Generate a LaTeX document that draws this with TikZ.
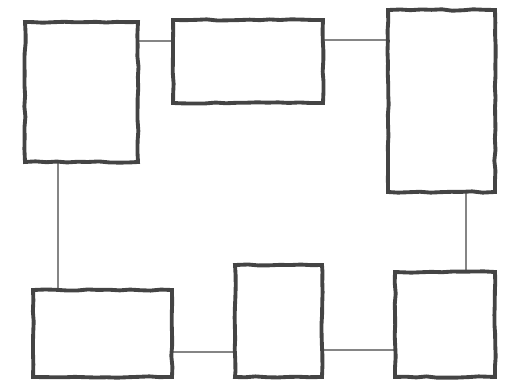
\documentclass[tikz,border=0pt]{standalone}
\usetikzlibrary{positioning, decorations.pathmorphing}
\definecolor{pencil}{HTML}{444444}
\tikzstyle{box} = [
draw=pencil,
line width=2.2pt,
rectangle,
inner sep=0pt,
outer sep=0pt,
decorate,
decoration={random steps, segment length=6pt, amplitude=0.4pt}]
\tikzstyle{link} = [
draw=pencil,
line width=0.8pt]

\begin{document}
\begin{tikzpicture}[x=0.02cm, y=-0.02cm]

\useasboundingbox (0,0) rectangle (507,385);

\node[box, minimum width=2.26cm, minimum height=2.8cm] (leftTop) at (81.5,92) {};
\node[box, minimum width=3cm, minimum height=1.66cm] (midTop) at (248,61.5) {};
\node[box, minimum width=2.14cm, minimum height=3.64cm] (rightTop) at (441.5,101) {};
\node[box, minimum width=2.78cm, minimum height=1.74cm] (leftBottom) at (102.5,333.5) {};
\node[box, minimum width=1.74cm, minimum height=2.24cm] (midBottom) at (278.5,321) {};
\node[box, minimum width=2cm, minimum height=2.1cm] (rightBottom) at (445,324.5) {};

\draw[link] ([yshift=-0.38cm]leftTop.north east) -- ([yshift=-0.42cm]midTop.north west);
\draw[link] ([yshift=-0.4cm]midTop.north east) -- ([yshift=-0.6cm]rightTop.north west);
\draw[link] ([xshift=0.66cm]leftTop.south west) -- ([xshift=0.5cm]leftBottom.north west);
\draw[link] ([xshift=1.56cm]rightTop.south west) -- ([xshift=1.42cm]rightBottom.north west);
\draw[link] ([yshift=0.5cm]leftBottom.south east) -- ([yshift=0.5cm]midBottom.south west);
\draw[link] ([yshift=0.54cm]midBottom.south east) -- ([yshift=0.54cm]rightBottom.south west);

\end{tikzpicture}
\end{document}
